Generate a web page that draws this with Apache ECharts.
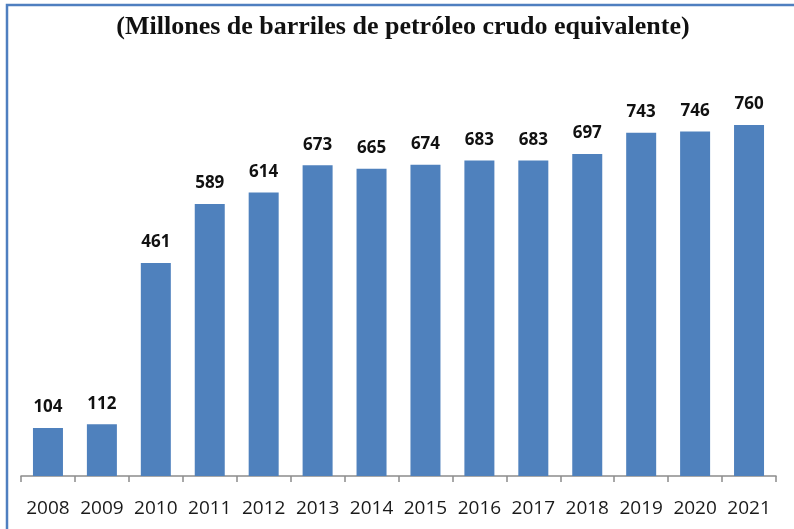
<!DOCTYPE html>
<html>
<head>
<meta charset="utf-8">
<script src="https://cdn.jsdelivr.net/npm/echarts@6/dist/echarts.min.js"></script>
<style>
  html, body { margin: 0; padding: 0; background: #ffffff; }
  #chart { width: 794px; height: 529px; }
</style>
</head>
<body>
<div id="chart"></div>
<script>
// Annual production, millions of barrels of crude oil equivalent
const years = ['2008', '2009', '2010', '2011', '2012', '2013', '2014', '2015', '2016', '2017', '2018', '2019', '2020', '2021'];
const production = [104, 112, 461, 589, 614, 673, 665, 674, 683, 683, 697, 743, 746, 760];
const titleText = '(Millones de barriles de petróleo crudo equivalente)';

const chart = echarts.init(document.getElementById('chart'));
chart.setOption({
  animation: false,
  backgroundColor: '#ffffff',
  title: {
    text: titleText,
    left: 398,
    textAlign: 'center',
    top: 9,
    textStyle: {
      fontFamily: 'Liberation Serif',
      fontWeight: 'bold',
      fontSize: 26,
      color: '#111111'
    }
  },
  graphic: [{
    type: 'polyline',
    shape: { points: [[7, 529], [7, 5], [800, 5]] },
    style: { stroke: '#4F7FC0', lineWidth: 2.5, fill: null },
    silent: true
  }],
  grid: { left: 21, right: 18, top: 106.5, bottom: 53, containLabel: false },
  xAxis: {
    type: 'category',
    data: years,
    axisLine: { lineStyle: { color: '#8c8c8c', width: 1.5 } },
    axisTick: { show: true, alignWithLabel: false, length: 6, lineStyle: { color: '#8c8c8c', width: 1.5 } },
    axisLabel: {
      interval: 0,
      hideOverlap: false,
      fontFamily: 'Open Sans',
      fontSize: 19,
      color: '#1a1a1a',
      margin: 23
    }
  },
  yAxis: {
    type: 'value',
    min: 0,
    max: 800,
    show: false,
    splitLine: { show: false }
  },
  series: [{
    type: 'bar',
    data: production,
    barWidth: 30,
    itemStyle: { color: '#4F81BD' },
    label: {
      show: true,
      position: 'top',
      distance: 12,
      fontFamily: 'Open Sans',
      fontWeight: 'bold',
      fontSize: 17,
      color: '#111111'
    }
  }]
});
</script>
</body>
</html>
